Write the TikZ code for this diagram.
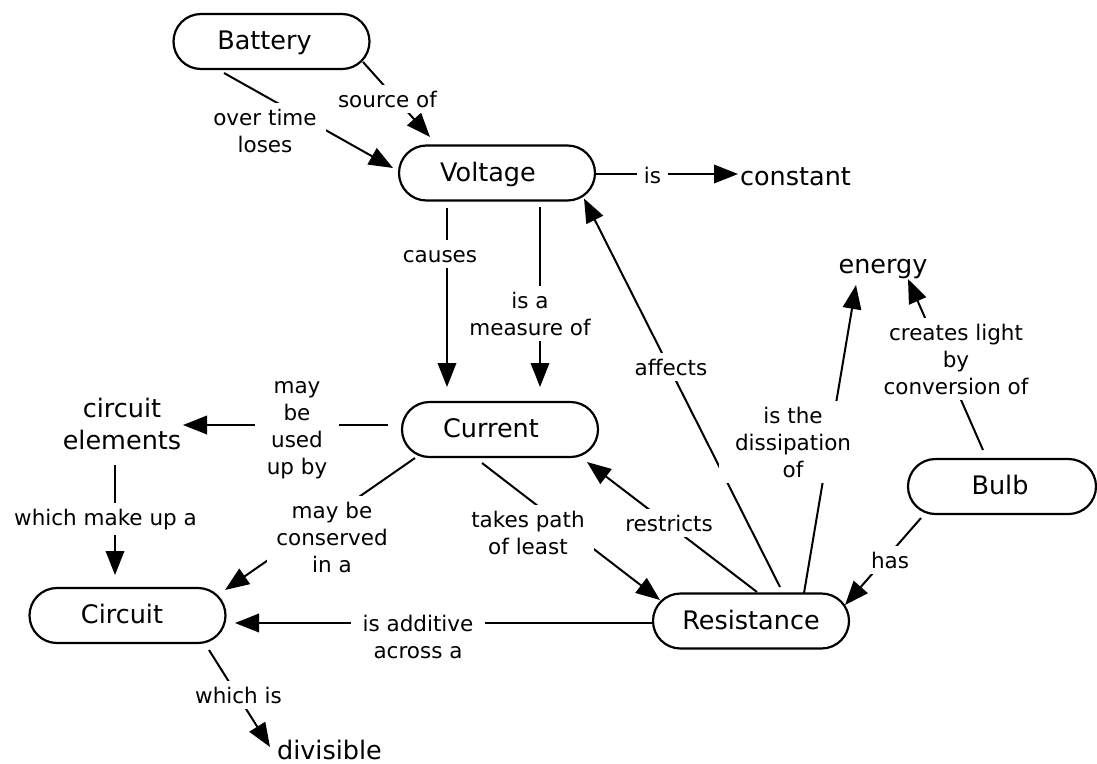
\documentclass[tikz,border=0pt]{standalone}
\usepackage{fontspec}
\setmainfont{DejaVu Sans}
\usetikzlibrary{shapes.misc,arrows.meta,calc}
\newcommand\lblstrut{\rule{0pt}{17pt}}
\begin{document}
\begin{tikzpicture}[x=1pt,y=-1pt,
  concept/.style={draw,line width=2.2pt,rounded rectangle,minimum width=196pt,minimum height=55pt,inner sep=0pt,font={\fontsize{25.5}{30}\selectfont},text height=19pt,text depth=3pt},
  ctext/.style={inner sep=0pt,font={\fontsize{25.5}{32}\selectfont}},
  lbl/.style={fill=white,inner xsep=9pt,inner ysep=5pt,font={\fontsize{21.5}{27}\selectfont},align=center,anchor=north},
  conn/.style={line width=2pt,-{Triangle[length=24pt,width=18.5pt]}}
]
\useasboundingbox (0,0) rectangle (1097,763);

% concepts
\node[concept] (bat) at (271.5,41.5) {Battery\hspace*{14pt}};
\node[concept] (volt) at (497,173) {Voltage\hspace*{18pt}};
\node[concept] (cur) at (500,429.5) {Current\hspace*{18pt}};
\node[concept] (circ) at (127.5,615.5) {Circuit\hspace*{11pt}};
\node[concept] (res) at (751,621) {Resistance};
\node[concept,minimum width=188pt] (bulb) at (1002,486.5) {Bulb\hspace*{4pt}};
\node[ctext,anchor=base] (const) at (795.5,185) {constant};
\node[ctext,anchor=base] (energy) at (883,273) {energy};
\node[ctext,anchor=base] (div) at (329.5,759) {divisible};
\node[ctext,align=center,anchor=north] (elems) at (122,398) {\rule{0pt}{19pt}circuit\\elements};

% connectors
\draw[conn] ($(bat)+(-47.5,31.5)$) -- ($(volt)+(-104,-5)$);
\draw[conn] ($(bat)+(91.5,20.5)$) -- ($(volt)+(-67,-36)$);
\draw[conn] ($(volt)+(99,1)$) -- ($(const.base)+(-57.5,-11)$);
\draw[conn] ($(volt)+(-50,35)$) -- ($(cur)+(-53,-42.5)$);
\draw[conn] ($(volt)+(43,34)$) -- ($(cur)+(40,-42.5)$);
\draw[conn] ($(res)+(29,-34)$) -- ($(volt)+(87,25.5)$);
\draw[conn] ($(res)+(53,-28)$) -- ($(energy.base)+(-27,12)$);
\draw[conn] ($(bulb)+(-19,-36.5)$) -- ($(energy.base)+(25,6)$);
\draw[conn] ($(bulb)+(-81,31.5)$) -- ($(res)+(94,-16)$);
\draw[conn] ($(res)+(6,-29)$) -- ($(cur)+(87,32.5)$);
\draw[conn] ($(cur)+(-18,33.5)$) -- ($(res)+(-91,-21)$);
\draw[conn] ($(cur)+(-85,28.5)$) -- ($(circ)+(97.5,-25.5)$);
\draw[conn] ($(res)+(-99,2)$) -- ($(circ)+(107.5,7.5)$);
\draw[conn] ($(circ)+(81.5,34.5)$) -- ($(div.base)+(-59.5,-12)$);
\draw[conn] ($(cur)+(-112,-4.5)$) -- ($(elems.north)+(61,27)$);
\draw[conn] ($(elems.north)+(-7,67)$) -- ($(circ)+(-12.5,-40.5)$);

% link labels
\node[lbl] (l1) at (265,103) {\lblstrut over time\\loses};
\node[lbl] (l2) at (387.5,85) {\lblstrut source of};
\node[lbl,inner xsep=7pt] (l3) at (652.5,161) {\lblstrut is};
\node[lbl] (l4) at (440,240) {\lblstrut causes};
\node[lbl] (l5) at (530,286) {\lblstrut is a\\measure of};
\node[lbl] (l6) at (671,353) {\lblstrut affects};
\node[lbl,inner xsep=16pt] (l7) at (793,401) {\lblstrut is the\\dissipation\\of};
\node[lbl] (l8) at (956,318) {\lblstrut creates light\\by\\conversion of};
\node[lbl] (l9) at (890,546) {\lblstrut has};
\node[lbl] (l10) at (669,509) {\lblstrut restricts};
\node[lbl] (l11) at (528,505) {\lblstrut takes path\\of least};
\node[lbl] (l12) at (332,496) {\lblstrut may be\\conserved\\in a};
\node[lbl,inner xsep=12pt] (l13) at (418,609) {\lblstrut is additive\\across a};
\node[lbl] (l14) at (238.5,681) {\lblstrut which is};
\node[lbl,inner xsep=12pt] (l15) at (297,371) {\lblstrut may\\be\\used\\up by};
\node[lbl] (l16) at (105.5,503) {\lblstrut which make up a};
\end{tikzpicture}
\end{document}
